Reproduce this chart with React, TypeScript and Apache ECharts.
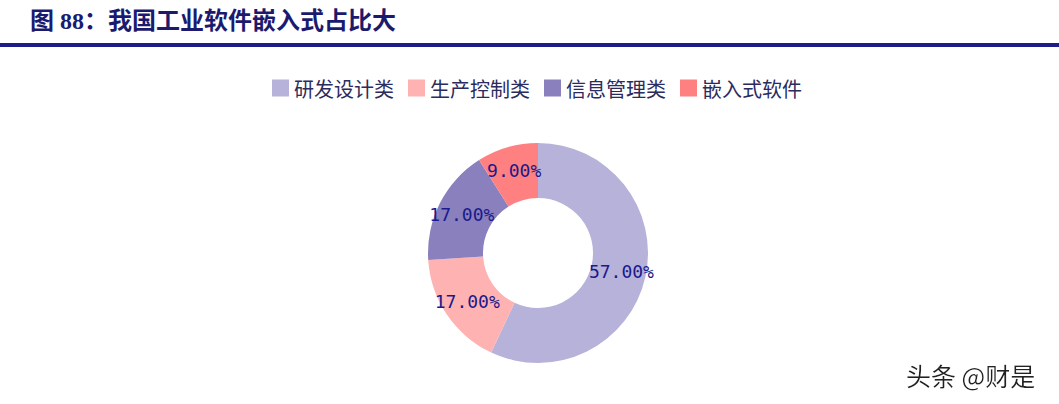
import { useEffect, useRef } from 'react';
import * as echarts from 'echarts';

const categories = ['研发设计类', '生产控制类', '信息管理类', '嵌入式软件'];
const shares = [57, 17, 17, 9];
const sliceColors = ['#b7b2d9', '#ffb2b2', '#8a80bd', '#ff8080'];

const titleText = '图 88：我国工业软件嵌入式占比大';
const watermark = '头条 @财是';

export default function App() {
  const chartRef = useRef<HTMLDivElement>(null);

  useEffect(() => {
    if (!chartRef.current) return;
    const chart = echarts.init(chartRef.current, null, { renderer: 'svg' });

    const option = {
      animation: false,
      backgroundColor: '#ffffff',
      color: sliceColors,
      legend: {
        data: categories,
        left: 267,
        top: 73,
        icon: 'rect',
        itemWidth: 17,
        itemHeight: 17,
        itemGap: 14,
        textStyle: {
          fontSize: 20,
          color: '#2b2b5e',
          fontFamily: 'Noto Sans CJK SC',
        },
      },
      graphic: [
        {
          type: 'text',
          left: 30,
          top: 9,
          style: {
            text: titleText,
            fontSize: 24,
            fontWeight: 'bold',
            fill: '#1c1a6e',
            fontFamily: '"Liberation Serif", "Noto Sans CJK SC"',
          },
        },
        {
          type: 'rect',
          shape: { x: 0, y: 43, width: 1059, height: 4 },
          style: { fill: '#1e1c86' },
        },
        {
          type: 'text',
          left: 906,
          top: 362,
          style: {
            text: watermark,
            fontSize: 25,
            fill: '#222222',
            fontFamily: '"Noto Sans CJK SC"',
            textShadowColor: '#ffffff',
            textShadowBlur: 2,
          },
        },
      ],
      series: [
        {
          type: 'pie',
          center: [538, 253],
          radius: [55, 110],
          startAngle: 90,
          clockwise: true,
          avoidLabelOverlap: false,
          label: {
            show: true,
            position: 'inside',
            formatter: (p: any) => `${p.value.toFixed(2)}%`,
            fontSize: 18,
            color: '#1a1a8c',
            fontFamily: '"DejaVu Sans Mono"',
          },
          labelLine: { show: false },
          itemStyle: { borderWidth: 0 },
          emphasis: { disabled: true },
          data: categories.map((name, i) => ({ name, value: shares[i] })),
        },
      ],
    };

    chart.setOption(option);
    return () => chart.dispose();
  }, []);

  return (
    <div
      ref={chartRef}
      style={{ position: 'absolute', left: 0, top: 0, width: 1059, height: 404 }}
    />
  );
}
